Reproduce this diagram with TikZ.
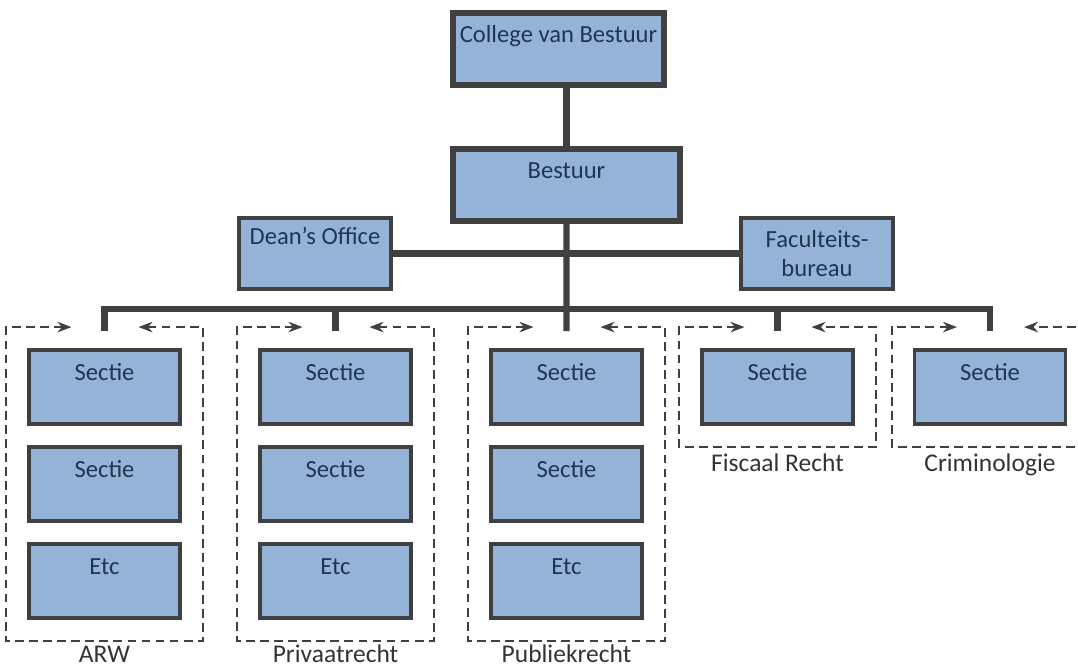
\documentclass[tikz,border=0pt]{standalone}
\usepackage{fontspec}
\setmainfont{Carlito}
\usepackage{tikz}
\usetikzlibrary{fit, arrows, arrows.meta}
\definecolor{rand}{HTML}{404040}
\definecolor{vulling}{HTML}{95B3D7}
\definecolor{tekst}{HTML}{1F3550}
\tikzstyle{lijn} = [line width=3.5pt, draw=rand]
\tikzstyle{bestuursorgaan} = [rectangle,
                              draw=rand,
                              line width=3.5pt,
                              fill=vulling,
                              text=tekst,
                              inner sep=0pt,
                              minimum width=4.22cm,
                              minimum height=1.44cm,
                              text height=0.58cm,
                              text depth=0.86cm,
                              font=\fontsize{14}{17}\selectfont]
\tikzstyle{staf} = [rectangle,
                    draw=rand,
                    line width=1.8pt,
                    fill=vulling,
                    text=tekst,
                    inner sep=0pt,
                    minimum width=3.04cm,
                    minimum height=1.42cm,
                    align=center,
                    font=\fontsize{14}{17}\selectfont]
\tikzstyle{sectie} = [rectangle,
                      draw=rand,
                      line width=1.8pt,
                      fill=vulling,
                      text=tekst,
                      inner sep=0pt,
                      minimum width=3.02cm,
                      minimum height=1.48cm,
                      text height=0.60cm,
                      text depth=0.88cm,
                      font=\fontsize{14}{17}\selectfont]
\tikzstyle{groep} = [draw=rand,
                     line width=1.1pt,
                     dash pattern=on 5pt off 3pt,
                     {Stealth[length=8pt,width=6pt]}-{Stealth[length=8pt,width=6pt]}]
\tikzstyle{groeplabel} = [anchor=base,
                          inner sep=1pt,
                          text=black!80,
                          font=\fontsize{14.5}{17}\selectfont]

\begin{document}
\begin{tikzpicture}[node distance=1.94cm]
        \useasboundingbox (0,0) rectangle (21.56,-13.36);

        \node (CvB) [bestuursorgaan] at (11.17,-0.98) {College van Bestuur};
        \node (Bestuur) [bestuursorgaan, below of=CvB, xshift=0.16cm, yshift=-0.78cm, minimum width=4.54cm] {Bestuur};
        \node (Dean) [staf, left of=Bestuur, xshift=-3.09cm, yshift=-1.37cm, text height=0.52cm, text depth=0.90cm] {Dean’s Office};
        \node (Fac) [staf, right of=Bestuur, xshift=3.07cm, yshift=-1.37cm] {Faculteits-\\bureau};

        \node (ARW1) [sectie] at (2.09,-7.74) {Sectie};
        \node (ARW2) [sectie, below of=ARW1] {Sectie};
        \node (ARW3) [sectie, below of=ARW2] {Etc};
        \node (Priv1) [sectie, right of=ARW1, xshift=2.68cm] {Sectie};
        \node (Priv2) [sectie, below of=Priv1] {Sectie};
        \node (Priv3) [sectie, below of=Priv2] {Etc};
        \node (Pub1) [sectie, right of=Priv1, xshift=2.68cm] {Sectie};
        \node (Pub2) [sectie, below of=Pub1] {Sectie};
        \node (Pub3) [sectie, below of=Pub2] {Etc};
        \node (Fis1) [sectie, right of=Pub1, xshift=2.28cm] {Sectie};
        \node (Crim1) [sectie, right of=Fis1, xshift=2.31cm] {Sectie};

        % dashed frames round the sections
        \node (ARWgroep) [fit=(ARW1)(ARW3), inner sep=0.42cm] {};
        \node (PrivGroep) [fit=(Priv1)(Priv3), inner sep=0.42cm] {};
        \node (PubGroep) [fit=(Pub1)(Pub3), inner sep=0.42cm] {};
        \node (FisGroep) [fit=(Fis1), inner sep=0.42cm] {};
        \node (CrimGroep) [fit=(Crim1), inner sep=0.42cm] {};

        \draw [groep] ([xshift=-0.66cm]ARWgroep.north) -- (ARWgroep.north west) |- (ARWgroep.south east) -- (ARWgroep.north east) -- ([xshift=0.68cm]ARWgroep.north);
        \draw [groep] ([xshift=-0.66cm]PrivGroep.north) -- (PrivGroep.north west) |- (PrivGroep.south east) -- (PrivGroep.north east) -- ([xshift=0.68cm]PrivGroep.north);
        \draw [groep] ([xshift=-0.66cm]PubGroep.north) -- (PubGroep.north west) |- (PubGroep.south east) -- (PubGroep.north east) -- ([xshift=0.68cm]PubGroep.north);
        \draw [groep] ([xshift=-0.66cm]FisGroep.north) -- (FisGroep.north west) |- (FisGroep.south east) -- (FisGroep.north east) -- ([xshift=0.68cm]FisGroep.north);
        \draw [groep] ([xshift=-0.66cm]CrimGroep.north) -- (CrimGroep.north west) |- (CrimGroep.south east) -- (CrimGroep.north east) -- ([xshift=0.68cm]CrimGroep.north);

        \node (ARWlabel) [groeplabel] at ([yshift=-0.44cm]ARWgroep.south) {ARW};
        \node (PrivLabel) [groeplabel] at ([yshift=-0.44cm]PrivGroep.south) {Privaatrecht};
        \node (PubLabel) [groeplabel] at ([yshift=-0.44cm]PubGroep.south) {Publiekrecht};
        \node (FisLabel) [groeplabel] at ([yshift=-0.5cm]FisGroep.south) {Fiscaal Recht};
        \node (CrimLabel) [groeplabel] at ([yshift=-0.5cm]CrimGroep.south) {Criminologie};

        \draw [lijn] (Bestuur.north) -- (Bestuur.north |- CvB.south);
        \draw [lijn] (Dean) -- (Fac);
        \draw [lijn] (Bestuur) -- ([yshift=-0.08cm]PubGroep.north);
        \draw [lijn] ([yshift=-0.08cm]ARWgroep.north) -- ++(0,0.44) -| ([yshift=-0.08cm]CrimGroep.north);
        \draw [lijn] ([yshift=-0.08cm]PrivGroep.north) -- ++(0,0.44);
        \draw [lijn] ([yshift=-0.08cm]FisGroep.north) -- ++(0,0.44);
    \end{tikzpicture}
\end{document}
